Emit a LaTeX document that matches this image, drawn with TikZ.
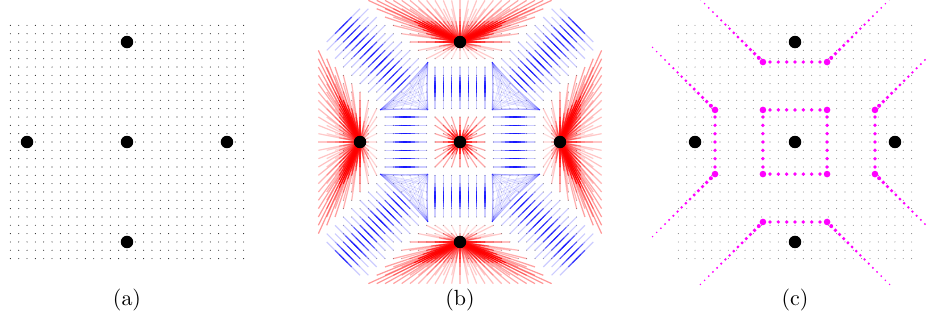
\documentclass[tikz,border=0pt]{standalone}

\begin{document}
\begin{tikzpicture}[
	x=0.016cm, y=-0.016cm,
	panel/.style={x=0.13333cm, y=0.13333cm},
	site/.style={circle, fill=black, inner sep=0pt, minimum size=0.2cm},
	dotpt/.style={fill=black!85},
	dotgrey/.style={fill=black!45},
	sink/.style={red, line width=0.55pt, opacity=0.55},
	ridge/.style={blue, line width=0.5pt, opacity=0.55},
	ridgefar/.style={ridge, opacity=0.2},
	knot/.style={blue, line width=0.3pt, opacity=0.12},
	cut/.style={fill={rgb,255:red,255;green,0;blue,255}},
	caption/.style={font=\normalsize}
]
\useasboundingbox (0,0) rectangle (926,326);

% (a) grid and sites
\begin{scope}[shift={(127,142)}, panel]
	\foreach \i in {-14,...,14}
		\foreach \j in {-14,...,14}
			\fill[dotpt] (\i,\j) circle[radius=0.25pt];
	\node[site] (a-o) at (0,0) {};
	\node[site] (a-n) at (0,12) {};
	\node[site] (a-s) at (0,-12) {};
	\node[site] (a-w) at (-12,0) {};
	\node[site] (a-e) at (12,0) {};
\end{scope}

% (b) grid points sent to their targets
\begin{scope}[shift={(460,142)}, panel]
	\foreach \i in {-14,...,14}
		\foreach \j in {-14,...,14}
			\fill[dotgrey] (\i,\j) circle[radius=0.25pt];
	\foreach \i in {-17,...,17}
		\foreach \j in {-17,...,17}{
			\pgfmathtruncatemacro\ok{abs(\i)+abs(\j)<=28}
			\ifnum\ok=1
				\pgfmathsetmacro\ax{abs(\i)}
				\pgfmathsetmacro\ay{abs(\j)}
				\pgfmathsetmacro\sx{\i<0 ? -1 : 1}
				\pgfmathsetmacro\sy{\j<0 ? -1 : 1}
				\pgfmathtruncatemacro\reg{(\ax<=3.8 && \ay<=3.8) ? 1 : ((\ay<=3.8 && \ax<9.6) ? 2 : ((\ax<=3.8 && \ay<9.6) ? 3 : ((\ax-\ay>5.8) ? 4 : ((\ay-\ax>5.8) ? 5 : ((\ax+\ay<13.4) ? 6 : 7)))))}
				\pgfmathsetmacro\tx{\reg==1 ? 0 : (\reg==2 ? 6.7*\sx : (\reg==3 ? \i : (\reg==4 ? 12*\sx : (\reg==5 ? 0 : 0.5*(\ax+\ay)*\sx))))}
				\pgfmathsetmacro\ty{\reg==1 ? 0 : (\reg==2 ? \j : (\reg==3 ? 6.7*\sy : (\reg==4 ? 0 : (\reg==5 ? 12*\sy : 0.5*(\ax+\ay)*\sy))))}
				\pgfmathsetmacro\mx{0.5*(\i+\tx)}
				\pgfmathsetmacro\my{0.5*(\j+\ty)}
				\pgfmathtruncatemacro\kind{(\reg==1 || \reg==4 || \reg==5) ? 1 : (\reg==6 ? 2 : 3)}
				\ifcase\kind\or
					\pgfmathsetmacro\op{\reg==1 ? 0.75 : min(0.9, 0.1+0.075*veclen(\tx-\i,\ty-\j))}
					\pgfmathsetmacro\opf{0.45*\op}
					\draw[sink, opacity=\opf] (\i,\j) -- (\mx,\my);
					\draw[sink, opacity=\op] (\mx,\my) -- (\tx,\ty);
				\or
					% junction triangles: fans to the three corners
					\draw[knot] (\i,\j) -- (3.85*\sx,3.85*\sy);
					\draw[knot] (\i,\j) -- (3.85*\sx,9.6*\sy);
					\draw[knot] (\i,\j) -- (9.6*\sx,3.85*\sy);
				\or
					\draw[ridgefar] (\i,\j) -- (\mx,\my);
					\draw[ridge] (\mx,\my) -- (\tx,\ty);
				\fi
			\fi
		}
	\node[site] (b-o) at (0,0) {};
	\node[site] (b-n) at (0,12) {};
	\node[site] (b-s) at (0,-12) {};
	\node[site] (b-w) at (-12,0) {};
	\node[site] (b-e) at (12,0) {};
\end{scope}

% (c) boundary points
\begin{scope}[shift={(795,142)}, panel]
	\foreach \i in {-14,...,14}
		\foreach \j in {-14,...,14}
			\fill[dotgrey] (\i,\j) circle[radius=0.25pt];
	\foreach \sx in {-1,1}
		\foreach \sy in {-1,1}{
			% corners
			\fill[cut] (3.85*\sx,3.85*\sy) circle[radius=1.5pt];
			\fill[cut] (9.6*\sx,3.85*\sy) circle[radius=1.5pt];
			\fill[cut] (3.85*\sx,9.6*\sy) circle[radius=1.5pt];
			% diagonals
			\foreach \t in {1,...,15}{
				\pgfmathsetmacro\rr{0.95-0.04*\t}
				\fill[cut] (3.85*\sx+0.5*\t*\sx,9.6*\sy+0.5*\t*\sy) circle[radius=\rr pt];
				\fill[cut] (9.6*\sx+0.5*\t*\sx,3.85*\sy+0.5*\t*\sy) circle[radius=\rr pt];
			}
		}
	\foreach \k in {-3,...,3}{
		\fill[cut] (3.85,\k) circle[radius=0.85pt];
		\fill[cut] (-3.85,\k) circle[radius=0.85pt];
		\fill[cut] (\k,3.85) circle[radius=0.85pt];
		\fill[cut] (\k,-3.85) circle[radius=0.85pt];
		\fill[cut] (9.6,\k) circle[radius=0.85pt];
		\fill[cut] (-9.6,\k) circle[radius=0.85pt];
		\fill[cut] (\k,9.6) circle[radius=0.85pt];
		\fill[cut] (\k,-9.6) circle[radius=0.85pt];
	}
	\node[site] (c-o) at (0,0) {};
	\node[site] (c-n) at (0,12) {};
	\node[site] (c-s) at (0,-12) {};
	\node[site] (c-w) at (-12,0) {};
	\node[site] (c-e) at (12,0) {};
\end{scope}

% captions
\node[caption] (cap-a) at (127,300) {(a)};
\node[caption] (cap-b) at (460,300) {(b)};
\node[caption] (cap-c) at (795,300) {(c)};

\end{tikzpicture}
\end{document}
